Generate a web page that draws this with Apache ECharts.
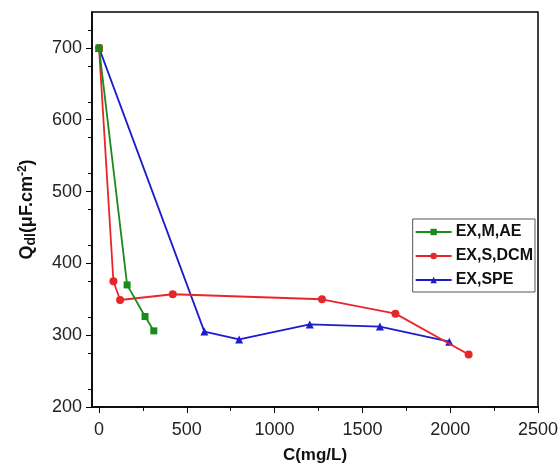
<!DOCTYPE html>
<html>
<head>
<meta charset="utf-8">
<script src="https://cdn.jsdelivr.net/npm/echarts@6/dist/echarts.min.js"></script>
<style>
html,body{margin:0;padding:0;background:#fff;}
#chart{width:558px;height:466px;}
</style>
</head>
<body>
<div id="chart"></div>
<script>
// Double-layer capacitance vs. concentration for three extracts
const seriesNames = ['EX,M,AE', 'EX,S,DCM', 'EX,SPE'];
const exMAE = [[0, 700], [160, 370], [262, 326], [312, 306]];
const exSDCM = [[0, 700], [82, 375], [120, 349], [420, 357], [1270, 350], [1688, 330], [2105, 273]];
const exSPE = [[0, 700], [600, 305], [798, 294], [1200, 315], [1600, 312], [1995, 291]];
const xTicks = [0, 500, 1000, 1500, 2000, 2500];
const yTicks = [200, 300, 400, 500, 600, 700];
const colors = ['#1a8a1a', '#e8262a', '#1c1ccc'];
const symbols = ['rect', 'circle', 'triangle'];
const seriesData = [exMAE, exSDCM, exSPE];

const chart = echarts.init(document.getElementById('chart'));
const font = 'Arial, "Liberation Sans", sans-serif';

chart.setOption({
  animation: false,
  backgroundColor: '#fff',
  grid: {
    left: 92, right: 20, top: 12, bottom: 59,
    containLabel: false, outerBoundsMode: 'none',
    show: true, borderColor: '#000', borderWidth: 1.5, backgroundColor: 'transparent'
  },
  legend: {
    data: seriesNames,
    orient: 'vertical',
    right: 23,
    top: 219,
    itemWidth: 36,
    itemHeight: 8,
    itemGap: 8,
    padding: [5, 2, 4, 2],
    borderColor: '#555',
    borderWidth: 1,
    textStyle: { fontFamily: font, fontWeight: 'bold', fontSize: 16, color: '#111', padding: [0, 0, 0, -1] }
  },
  xAxis: {
    type: 'value',
    min: -40,
    max: 2500,
    name: 'C(mg/L)',
    nameLocation: 'middle',
    nameGap: 40,
    nameTextStyle: { fontFamily: font, fontWeight: 'bold', fontSize: 17, color: '#111' },
    axisLine: { show: true, onZero: false, lineStyle: { color: '#000', width: 1.5 } },
    axisTick: { show: true, length: 6, lineStyle: { color: '#000' }, customValues: xTicks },
    minorTick: { show: true, splitNumber: 2, length: 4, lineStyle: { color: '#000' } },
    splitLine: { show: false },
    axisLabel: {
      fontFamily: font, fontSize: 18, color: '#222', margin: 14, customValues: xTicks,
      formatter: function (v) { return String(v); }
    }
  },
  yAxis: {
    type: 'value',
    min: 200,
    max: 750,
    interval: 50,
    name: 'Q{sub|dl}(μF.cm{sup|-2})',
    nameLocation: 'middle',
    nameRotate: 90,
    nameGap: 54,
    nameTextStyle: {
      fontFamily: font, fontWeight: 'bold', fontSize: 18, color: '#111',
      rich: {
        sub: { fontFamily: font, fontWeight: 'bold', fontSize: 14, color: '#111', verticalAlign: 'bottom', padding: [7, 0, 0, 0] },
        sup: { fontFamily: font, fontWeight: 'bold', fontSize: 12, color: '#111', verticalAlign: 'top', padding: [0, 0, 7, 0] }
      }
    },
    axisLine: { show: true, onZero: false, lineStyle: { color: '#000', width: 1.5 } },
    axisTick: { show: true, length: 6, lineStyle: { color: '#000' }, customValues: yTicks },
    minorTick: { show: true, splitNumber: 2, length: 4, lineStyle: { color: '#000' } },
    splitLine: { show: false },
    axisLabel: {
      fontFamily: font, fontSize: 18, color: '#222', margin: 10, customValues: yTicks,
      formatter: function (v) { return String(v); }
    }
  },
  series: seriesData.map(function (d, i) {
    return {
      name: seriesNames[i],
      type: 'line',
      data: d,
      symbol: symbols[i],
      symbolSize: i === 0 ? 7 : 8,
      showAllSymbol: true,
      lineStyle: { color: colors[i], width: 1.8 },
      itemStyle: { color: colors[i] },
      z: 3 - i
    };
  })
});
</script>
</body>
</html>
